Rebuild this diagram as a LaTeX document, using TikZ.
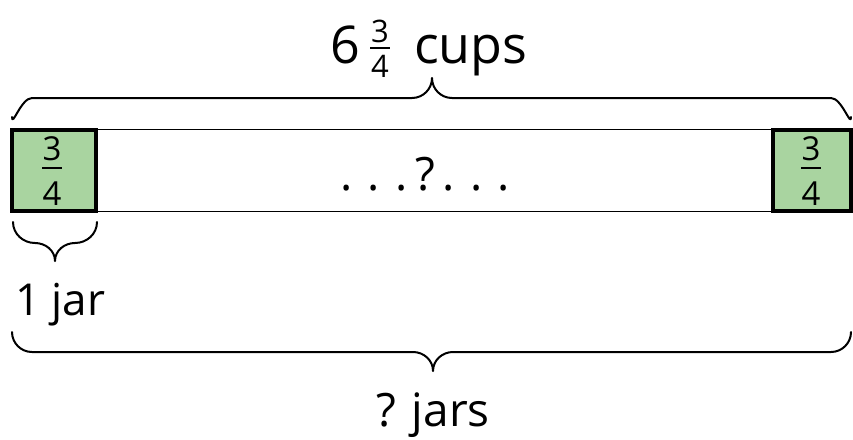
\documentclass[tikz,border=0pt]{standalone}
\usepackage{fontspec}
\setmainfont{Open Sans}
\definecolor{jargreen}{RGB}{169,212,160}
\begin{document}
\begin{tikzpicture}[x=1pt,y=-1pt,
  barbox/.style={draw=black,line width=1.5pt,minimum width=839.5pt,minimum height=82pt,inner sep=0pt},
  jarbox/.style={draw=black,fill=jargreen,line width=4pt,minimum height=81.5pt,inner sep=0pt},
  bigtxt/.style={inner sep=0pt,anchor=base,font=\fontsize{52}{60}\selectfont},
  midtxt/.style={inner sep=0pt,anchor=base,font=\fontsize{46}{54}\selectfont},
  boxdig/.style={inner sep=0pt,anchor=base,font=\fontsize{33}{40}\selectfont},
  smalldig/.style={inner sep=0pt,anchor=base,font=\fontsize{31}{36}\selectfont},
  fracrule/.style={line width=2pt},
  bracestyle/.style={line width=2pt,line cap=round,line join=round}]
\useasboundingbox (0,0) rectangle (853,439);
% main bar
\node[barbox] (bar) at (431.25,170.5) {};
\node[midtxt] (q) at (425,190) {.\,\,.\,\,.\,?\,.\,\,.\,\,.};
% jar boxes
\node[jarbox,minimum width=84pt] (left) at (53.5,170.7) {};
\node[jarbox,minimum width=77.5pt] (right) at (812,170.7) {};
% fractions in boxes
\node[boxdig] (l3) at (52,160) {3};
\node[boxdig] (l4) at (52,205) {4};
\draw[fracrule] (42,168) -- (62,168);
\node[boxdig] (r3) at (811,160) {3};
\node[boxdig] (r4) at (811,205) {4};
\draw[fracrule] (801,167.5) -- (821,167.5);
% top label
\node[bigtxt] (six) at (345,63) {6};
\node[smalldig] (t3) at (380,42) {3};
\node[smalldig] (t4) at (380,77) {4};
\draw[fracrule] (370,48) -- (390,48);
\node[bigtxt,anchor=base west] (cups) at (414,63) {cups};
% top brace
\draw[bracestyle] (12,117) to[out=-90,in=180] (32,98) -- (412,98)
  to[out=0,in=-90] (432,78) to[out=-90,in=180] (452,98) -- (831,98)
  to[out=0,in=-90] (851,117);
% small brace
\draw[bracestyle] (13,222) to[out=-90,in=180] (35,243)
  to[out=0,in=90] (55,261) to[out=90,in=180] (75,243)
  to[out=0,in=-90] (97,222);
\node[midtxt,anchor=base west,font=\fontsize{44}{52}\selectfont] (onejar) at (15,315) {1 jar};
% bottom brace
\draw[bracestyle] (12,332) to[out=-90,in=180] (32,352) -- (413,352)
  to[out=0,in=90] (433,371) to[out=90,in=180] (453,352) -- (831,352)
  to[out=0,in=-90] (851,332);
\node[midtxt] (jars) at (433,426) {? jars};
\end{tikzpicture}
\end{document}
